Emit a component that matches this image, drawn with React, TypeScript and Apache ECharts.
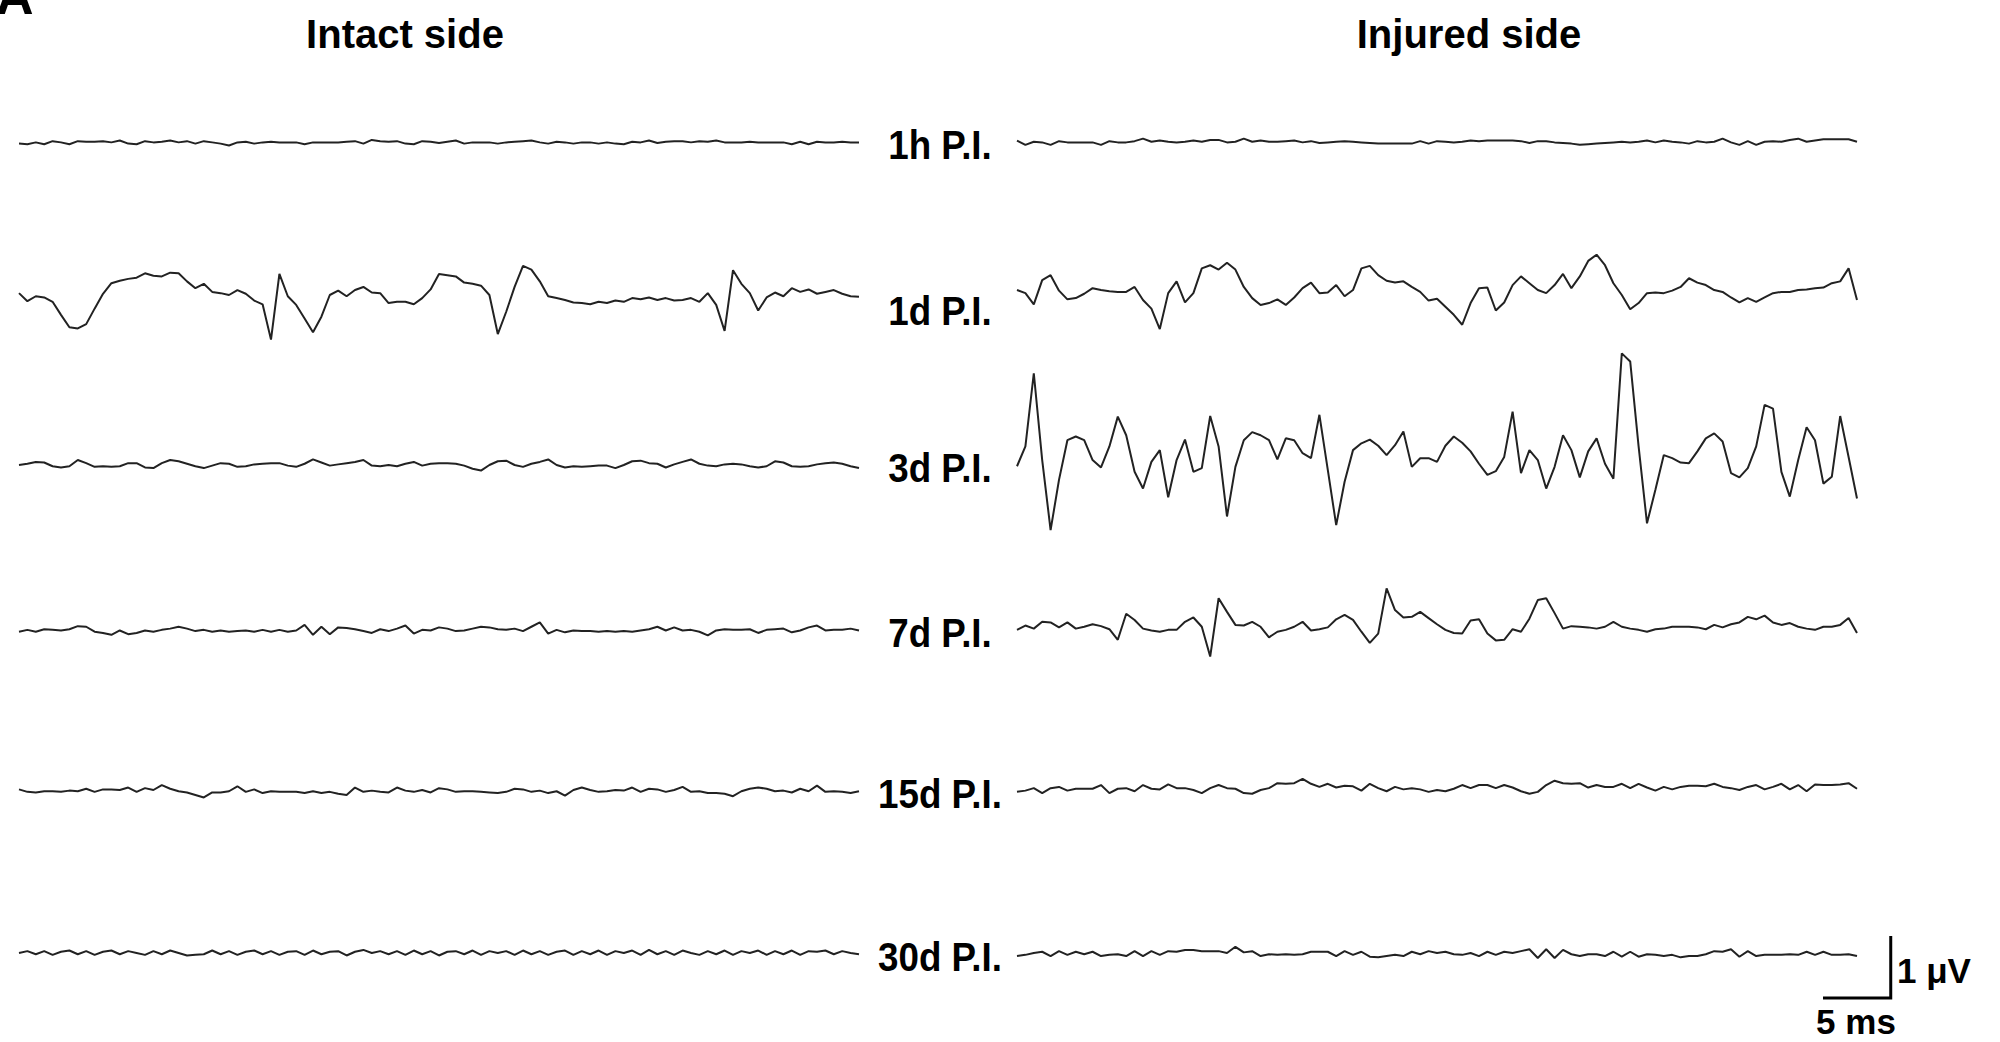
import { useEffect, useRef } from "react";
import * as echarts from "echarts";

// ---- data (time in ms, amplitude in µV) ----
const T_STEP = 0.62; // ms between samples
const TRACE_MS = 62;
const COLUMN_TITLES = ["Intact side", "Injured side"];
const ROW_LABELS = ["1h P.I.", "1d P.I.", "3d P.I.", "7d P.I.", "15d P.I.", "30d P.I."];
const SCALE_MS = 5;
const SCALE_UV = 1;
const SCALE_LABELS = ["1 μV", "5 ms"];

const intact1h = [
  -0.01, -0.02, 0.01, -0.02, 0.03, 0.01, -0.02, 0.03, 0.02, 0.02,
  0.03, 0.01, 0.04, -0.01, -0.02, 0.03, 0.01, 0.02, 0.04, 0.01,
  0.03, -0.01, 0.03, 0.01, -0.01, -0.04, 0.01, 0.02, -0.01, 0.01,
  0.02, 0.01, 0.01, 0.01, -0.02, 0.01, 0.01, 0.01, 0.01, 0.02,
  0.03, -0.01, 0.05, 0.03, 0.02, 0.03, -0.01, -0.02, 0.03, 0.02,
  0.0, 0.02, 0.04, -0.01, 0.01, 0.01, 0.01, -0.01, 0.01, 0.02,
  0.03, 0.04, 0.01, -0.01, 0.02, 0.01, -0.01, 0.01, 0.01, -0.01,
  0.01, -0.01, -0.02, 0.02, 0.01, 0.04, 0.0, 0.02, 0.03, 0.03,
  0.01, 0.03, 0.02, 0.04, 0.01, 0.01, 0.01, 0.02, 0.01, 0.01,
  0.01, 0.01, -0.02, 0.02, -0.02, 0.02, 0.01, 0.01, 0.02, 0.01,
  0.01,
];
const injured1h = [
  0.04, -0.03, 0.02, 0.01, -0.03, 0.03, 0.01, 0.01, 0.01, 0.01,
  -0.03, 0.03, 0.01, 0.01, 0.03, 0.07, 0.02, 0.04, 0.02, 0.01,
  0.02, 0.04, 0.02, 0.05, 0.05, 0.01, 0.02, 0.07, 0.02, 0.04,
  0.02, 0.02, 0.03, 0.04, 0.01, 0.03, 0.0, 0.01, 0.02, 0.03,
  0.02, 0.01, 0.0, -0.01, -0.01, -0.01, -0.01, -0.01, 0.03, -0.01,
  0.03, 0.02, 0.01, 0.02, 0.04, 0.03, 0.04, 0.04, 0.04, 0.04,
  0.03, 0.0, 0.03, 0.03, 0.01, 0.0, -0.01, -0.03, -0.02, -0.01,
  0.0, 0.01, 0.02, 0.01, 0.02, 0.04, 0.01, 0.04, 0.02, 0.01,
  -0.01, 0.03, 0.01, 0.02, 0.07, 0.01, -0.03, 0.03, -0.03, 0.02,
  0.03, 0.02, 0.05, 0.07, 0.02, 0.04, 0.06, 0.06, 0.06, 0.06,
  0.02,
];
const intact1d = [
  0.03, -0.1, -0.02, -0.04, -0.11, -0.32, -0.52, -0.54, -0.47, -0.22,
  0.02, 0.19, 0.23, 0.26, 0.28, 0.35, 0.31, 0.3, 0.36, 0.35,
  0.22, 0.11, 0.18, 0.05, 0.03, 0.0, 0.08, 0.02, -0.09, -0.15,
  -0.72, 0.34, -0.02, -0.16, -0.38, -0.6, -0.35, 0.0, 0.07, -0.02,
  0.08, 0.13, 0.04, 0.03, -0.13, -0.11, -0.11, -0.15, -0.05, 0.09,
  0.34, 0.32, 0.3, 0.2, 0.18, 0.15, 0.0, -0.63, -0.27, 0.13,
  0.47, 0.41, 0.22, -0.02, -0.05, -0.08, -0.12, -0.13, -0.15, -0.11,
  -0.13, -0.09, -0.11, -0.05, -0.07, -0.04, -0.08, -0.05, -0.09, -0.08,
  -0.05, -0.11, 0.03, -0.16, -0.58, 0.4, 0.18, 0.03, -0.25, -0.04,
  0.04, -0.02, 0.11, 0.05, 0.09, 0.02, 0.05, 0.08, 0.02, -0.02,
  -0.03,
];
const injured1d = [
  0.08, 0.03, -0.15, 0.24, 0.32, 0.07, -0.07, -0.05, 0.02, 0.11,
  0.08, 0.06, 0.05, 0.05, 0.13, -0.08, -0.22, -0.55, 0.03, 0.22,
  -0.12, 0.03, 0.43, 0.48, 0.41, 0.52, 0.41, 0.13, -0.05, -0.16,
  -0.13, -0.07, -0.16, -0.04, 0.11, 0.2, 0.03, 0.04, 0.16, -0.02,
  0.08, 0.43, 0.47, 0.32, 0.23, 0.2, 0.22, 0.13, 0.05, -0.09,
  -0.06, -0.19, -0.32, -0.48, -0.13, 0.11, 0.12, -0.25, -0.12, 0.16,
  0.3, 0.19, 0.08, 0.03, 0.16, 0.34, 0.11, 0.3, 0.55, 0.65,
  0.48, 0.19, 0.0, -0.23, -0.13, 0.03, 0.04, 0.03, 0.07, 0.13,
  0.27, 0.2, 0.16, 0.08, 0.05, -0.04, -0.12, -0.05, -0.11, -0.04,
  0.03, 0.05, 0.05, 0.08, 0.09, 0.11, 0.12, 0.19, 0.22, 0.43,
  -0.08,
];
const intact3d = [
  0.0, 0.02, 0.05, 0.04, -0.02, -0.04, -0.02, 0.08, 0.03, -0.03,
  -0.02, -0.03, -0.02, 0.03, 0.03, -0.04, -0.05, 0.03, 0.08, 0.06,
  0.02, -0.02, -0.05, -0.01, 0.03, 0.02, -0.03, -0.02, 0.01, 0.02,
  0.03, 0.03, -0.01, -0.03, 0.02, 0.09, 0.04, -0.01, 0.01, 0.03,
  0.05, 0.08, -0.01, -0.02, 0.0, -0.02, 0.02, 0.05, -0.01, 0.02,
  0.03, 0.03, 0.02, -0.01, -0.06, -0.09, 0.0, 0.06, 0.07, 0.0,
  -0.03, 0.02, 0.05, 0.09, 0.0, -0.04, -0.02, -0.03, -0.02, -0.01,
  -0.01, -0.05, 0.0, 0.06, 0.07, 0.03, 0.02, -0.04, 0.01, 0.05,
  0.09, 0.02, -0.01, -0.02, 0.01, 0.02, 0.01, -0.02, -0.04, -0.02,
  0.06, 0.04, -0.02, -0.03, -0.02, 0.01, 0.03, 0.04, 0.02, -0.02,
  -0.05,
];
const injured3d = [
  -0.02, 0.3, 1.48, 0.08, -1.05, -0.24, 0.4, 0.46, 0.4, 0.08,
  -0.04, 0.3, 0.78, 0.48, -0.11, -0.38, 0.05, 0.24, -0.52, 0.08,
  0.41, -0.11, -0.05, 0.79, 0.3, -0.83, -0.03, 0.4, 0.53, 0.48,
  0.4, 0.09, 0.43, 0.4, 0.19, 0.11, 0.81, -0.08, -0.97, -0.27,
  0.24, 0.35, 0.41, 0.31, 0.16, 0.32, 0.54, -0.03, 0.11, 0.11,
  0.05, 0.31, 0.46, 0.36, 0.22, 0.02, -0.16, -0.1, 0.13, 0.86,
  -0.13, 0.24, 0.08, -0.38, -0.03, 0.48, 0.24, -0.2, 0.22, 0.43,
  0.02, -0.22, 1.8, 1.67, 0.3, -0.94, -0.4, 0.16, 0.11, 0.04,
  0.03, 0.22, 0.43, 0.51, 0.38, -0.13, -0.2, -0.05, 0.3, 0.97,
  0.91, -0.11, -0.51, 0.08, 0.61, 0.4, -0.3, -0.19, 0.79, 0.13,
  -0.54,
];
const intact7d = [
  -0.06, -0.03, -0.06, -0.02, -0.03, -0.04, -0.02, 0.03, 0.02, -0.06,
  -0.08, -0.11, -0.04, -0.1, -0.08, -0.04, -0.06, -0.03, -0.01, 0.02,
  -0.01, -0.05, -0.03, -0.06, -0.04, -0.06, -0.05, -0.04, -0.06, -0.03,
  -0.06, -0.03, -0.06, -0.04, 0.05, -0.11, 0.02, -0.1, 0.01, 0.0,
  -0.02, -0.05, -0.08, -0.02, -0.05, -0.01, 0.04, -0.09, -0.03, -0.04,
  0.01, -0.01, -0.05, -0.04, -0.01, 0.02, 0.01, -0.02, -0.03, -0.01,
  -0.05, 0.02, 0.09, -0.09, -0.03, -0.07, -0.04, -0.05, -0.05, -0.06,
  -0.05, -0.06, -0.05, -0.06, -0.04, -0.02, 0.02, -0.04, 0.01, -0.04,
  -0.03, -0.06, -0.12, -0.04, -0.02, -0.03, -0.03, -0.02, -0.08, -0.03,
  -0.02, -0.01, -0.07, -0.04, 0.01, 0.04, -0.04, -0.03, -0.03, -0.01,
  -0.04,
];
const injured7d = [
  -0.03, 0.04, -0.01, 0.1, 0.09, 0.01, 0.09, -0.01, 0.02, 0.06,
  0.03, -0.02, -0.19, 0.23, 0.13, -0.01, -0.04, -0.06, -0.03, -0.03,
  0.1, 0.17, 0.02, -0.46, 0.48, 0.26, 0.05, 0.04, 0.1, 0.02,
  -0.15, -0.06, -0.03, 0.02, 0.1, -0.04, -0.02, 0.01, 0.14, 0.21,
  0.13, -0.06, -0.24, -0.09, 0.64, 0.29, 0.17, 0.18, 0.26, 0.16,
  0.06, -0.03, -0.08, -0.09, 0.12, 0.14, -0.09, -0.2, -0.19, -0.02,
  -0.06, 0.15, 0.45, 0.48, 0.24, -0.01, 0.03, 0.02, 0.01, -0.01,
  0.02, 0.1, 0.02, -0.01, -0.03, -0.06, -0.02, -0.01, 0.02, 0.02,
  0.02, 0.01, -0.02, 0.05, 0.01, 0.06, 0.09, 0.18, 0.14, 0.2,
  0.09, 0.05, 0.08, 0.02, -0.01, -0.03, 0.02, 0.02, 0.05, 0.16,
  -0.08,
];
const intact15d = [
  0.01, -0.03, -0.04, -0.02, -0.02, -0.03, -0.01, -0.02, 0.02, -0.03,
  0.01, 0.01, 0.0, 0.04, -0.03, 0.03, 0.0, 0.08, 0.02, -0.02,
  -0.04, -0.08, -0.12, -0.04, -0.04, -0.02, 0.06, -0.03, 0.01, -0.05,
  -0.02, -0.03, -0.03, -0.03, -0.05, -0.02, -0.05, -0.03, -0.06, -0.08,
  0.04, -0.03, -0.01, -0.03, -0.04, 0.04, -0.01, -0.03, 0.0, -0.04,
  0.03, 0.01, -0.03, -0.02, -0.02, -0.03, -0.04, -0.05, -0.03, 0.02,
  0.01, -0.03, -0.01, -0.05, -0.02, -0.09, 0.0, 0.04, 0.0, -0.03,
  -0.02, 0.0, -0.01, 0.04, -0.03, 0.02, 0.01, -0.03, 0.0, 0.05,
  -0.03, -0.02, -0.05, -0.05, -0.06, -0.1, -0.02, 0.02, 0.04, 0.02,
  -0.02, -0.01, -0.04, 0.02, -0.02, 0.07, -0.03, -0.02, -0.03, -0.05,
  -0.02,
];
const injured15d = [
  -0.03, -0.01, 0.03, -0.05, 0.03, 0.05, -0.01, 0.02, 0.02, 0.02,
  0.08, -0.05, 0.02, 0.03, -0.02, 0.08, 0.02, 0.01, 0.09, 0.03,
  0.03, 0.0, -0.05, 0.03, 0.08, 0.03, 0.02, -0.05, -0.06, 0.0,
  0.03, 0.11, 0.1, 0.11, 0.18, 0.1, 0.05, 0.1, 0.04, 0.07,
  0.06, -0.01, 0.1, 0.03, -0.02, 0.05, 0.01, 0.03, 0.01, -0.03,
  0.0, -0.02, 0.02, 0.08, 0.03, 0.08, 0.08, 0.03, 0.08, 0.04,
  -0.02, -0.06, -0.03, 0.08, 0.15, 0.11, 0.1, 0.11, 0.04, 0.08,
  0.05, 0.05, 0.1, 0.03, 0.1, 0.04, -0.01, 0.05, 0.01, 0.05,
  0.07, 0.07, 0.06, 0.1, 0.05, 0.03, 0.0, 0.05, 0.08, 0.01,
  0.05, 0.1, 0.01, 0.08, -0.02, 0.09, 0.08, 0.08, 0.09, 0.11,
  0.02,
];
const intact30d = [
  0.0, 0.03, -0.02, 0.03, -0.03, 0.02, 0.04, -0.02, 0.03, -0.03,
  0.02, 0.04, -0.02, 0.03, 0.0, -0.03, 0.03, -0.02, 0.04, 0.0,
  -0.04, -0.03, -0.02, 0.04, -0.02, 0.03, -0.03, 0.02, 0.04, -0.02,
  0.03, -0.03, 0.02, 0.03, -0.03, 0.04, -0.02, 0.02, 0.03, -0.04,
  0.02, 0.05, 0.0, 0.03, -0.02, 0.03, -0.03, 0.04, -0.02, 0.03,
  -0.04, 0.02, 0.03, -0.02, 0.04, -0.03, 0.03, 0.0, 0.03, -0.03,
  0.04, -0.02, 0.03, -0.03, 0.02, 0.04, -0.03, 0.03, -0.02, 0.04,
  -0.03, 0.03, 0.0, 0.04, -0.03, 0.05, -0.02, 0.03, -0.03, 0.04,
  0.0, -0.03, 0.03, -0.02, 0.04, -0.03, 0.03, 0.0, 0.04, -0.03,
  0.03, -0.02, 0.04, -0.03, 0.03, 0.02, 0.04, -0.02, 0.03, 0.0,
  -0.02,
];
const injured30d = [
  -0.05, -0.03, 0.0, 0.02, -0.05, 0.03, -0.03, 0.02, -0.02, 0.02,
  -0.05, -0.03, -0.02, -0.05, 0.03, -0.05, 0.03, -0.03, 0.03, 0.02,
  0.05, 0.05, 0.03, 0.03, 0.03, 0.0, 0.1, 0.01, 0.03, -0.05,
  -0.02, -0.03, -0.02, -0.03, -0.02, 0.02, 0.02, 0.02, -0.05, 0.03,
  -0.03, 0.02, -0.06, -0.07, -0.05, -0.03, -0.05, 0.02, -0.02, 0.03,
  0.0, 0.02, -0.02, -0.03, 0.0, -0.05, 0.02, -0.03, 0.02, 0.0,
  0.03, 0.06, -0.08, 0.06, -0.08, 0.05, -0.02, -0.05, -0.02, -0.02,
  -0.05, 0.02, -0.06, 0.02, -0.06, -0.02, -0.03, -0.05, -0.03, -0.07,
  -0.05, -0.05, -0.02, 0.03, 0.02, 0.06, -0.06, 0.03, -0.05, -0.03,
  -0.03, -0.03, -0.02, -0.03, 0.02, -0.03, 0.02, -0.03, -0.03, -0.02,
  -0.05,
];

const INTACT_TRACES = [intact1h, intact1d, intact3d, intact7d, intact15d, intact30d];
const INJURED_TRACES = [injured1h, injured1d, injured3d, injured7d, injured15d, injured30d];

// ---- layout (pixels) ----
const ROW_ZERO_Y = [143, 295, 465, 628, 790, 953];
const ROW_Y_RANGE = [2, 2, 2, 2, 1.2, 1.2]; // ± µV per grid, keeps grids inside the canvas
const LABEL_Y = [145, 311, 468, 633, 794, 957];
const PX_PER_UV = 62;
const COL_LEFT = [19, 1017];
const TRACE_W = 840;
const LABEL_X = 940;
const TITLE_X = [405, 1469];
const TITLE_Y = 34;
const FONT = "'Liberation Sans', Arial, Helvetica, sans-serif";
const TRACE_COLOR = "#222";

function toSeriesData(values: number[]) {
  return values.map((v, i) => [Number((i * T_STEP).toFixed(3)), v]);
}

export default function App() {
  const ref = useRef<HTMLDivElement>(null);

  useEffect(() => {
    if (!ref.current) return;
    const chart = echarts.init(ref.current, undefined, { renderer: "svg" });

    const grids: any[] = [];
    const xAxes: any[] = [];
    const yAxes: any[] = [];
    const series: any[] = [];

    ROW_LABELS.forEach((_, r) => {
      const yr = ROW_Y_RANGE[r];
      [INTACT_TRACES[r], INJURED_TRACES[r]].forEach((trace, c) => {
        const idx = grids.length;
        grids.push({
          left: COL_LEFT[c],
          top: ROW_ZERO_Y[r] - yr * PX_PER_UV,
          width: TRACE_W,
          height: 2 * yr * PX_PER_UV,
          show: false,
        });
        xAxes.push({ type: "value", gridIndex: idx, min: 0, max: TRACE_MS, show: false });
        yAxes.push({ type: "value", gridIndex: idx, min: -yr, max: yr, show: false });
        series.push({
          type: "line",
          xAxisIndex: idx,
          yAxisIndex: idx,
          data: toSeriesData(trace),
          showSymbol: false,
          symbol: "none",
          silent: true,
          clip: false,
          lineStyle: { color: TRACE_COLOR, width: 2 },
        });
      });
    });

    // scale bar grid, same px/ms and px/µV as the traces
    const sIdx = grids.length;
    const pxPerMs = TRACE_W / TRACE_MS;
    grids.push({
      left: 1823,
      top: 936,
      width: SCALE_MS * pxPerMs,
      height: SCALE_UV * PX_PER_UV,
      show: false,
    });
    xAxes.push({ type: "value", gridIndex: sIdx, min: 0, max: SCALE_MS, show: false });
    yAxes.push({ type: "value", gridIndex: sIdx, min: 0, max: SCALE_UV, show: false });
    series.push({
      type: "line",
      xAxisIndex: sIdx,
      yAxisIndex: sIdx,
      data: [
        [0, 0],
        [SCALE_MS, 0],
        [SCALE_MS, SCALE_UV],
      ],
      showSymbol: false,
      symbol: "none",
      silent: true,
      clip: false,
      lineStyle: { color: "#000", width: 3, join: "miter", cap: "butt" },
    });

    const textStyle = (text: string, size: number, align = "center") => ({
      text,
      fontSize: size,
      fontWeight: "bold",
      fontFamily: FONT,
      fill: "#000",
      align,
      verticalAlign: "middle",
    });

    const graphic: any[] = [
      { type: "text", x: -4, y: -4, silent: true, style: textStyle("A", 52, "left") },
      ...COLUMN_TITLES.map((t, c) => ({
        type: "text",
        x: TITLE_X[c],
        y: TITLE_Y,
        silent: true,
        style: textStyle(t, 40),
      })),
      ...ROW_LABELS.map((t, r) => ({
        type: "text",
        x: LABEL_X,
        y: LABEL_Y[r],
        scaleX: 0.92,
        silent: true,
        style: textStyle(t, 40),
      })),
      { type: "text", x: 1897, y: 970, silent: true, style: textStyle(SCALE_LABELS[0], 35, "left") },
      { type: "text", x: 1856, y: 1021, silent: true, style: textStyle(SCALE_LABELS[1], 35) },
    ];

    chart.setOption({
      animation: false,
      backgroundColor: "#fff",
      grid: grids,
      xAxis: xAxes,
      yAxis: yAxes,
      series,
      graphic,
    });

    return () => chart.dispose();
  }, []);

  return (
    <div
      ref={ref}
      style={{ position: "fixed", left: 0, top: 0, width: 2000, height: 1042, background: "#fff" }}
    />
  );
}
